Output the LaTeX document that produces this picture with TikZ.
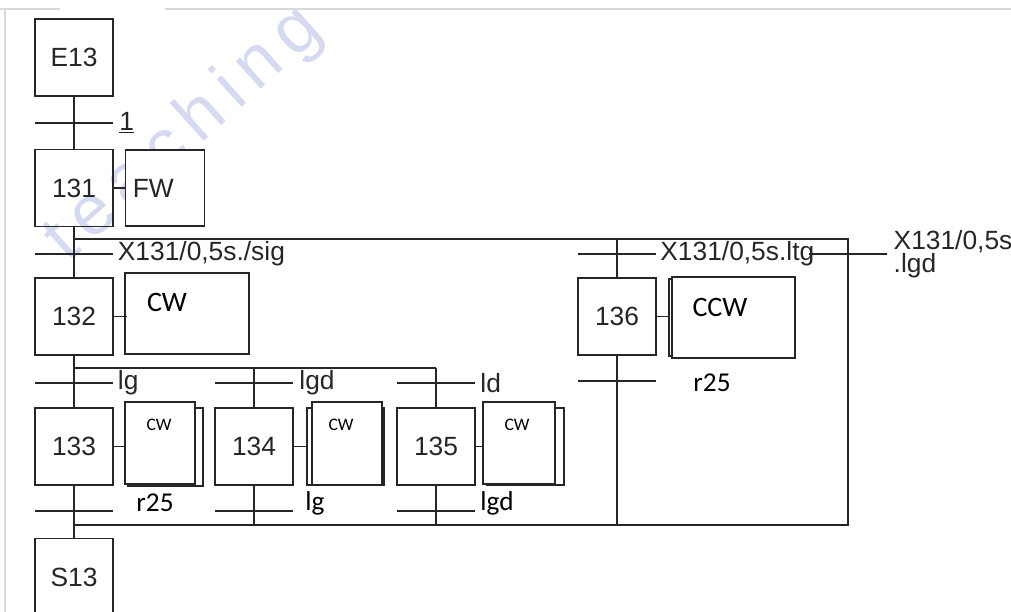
\documentclass[tikz,border=0pt]{standalone}
\usepackage{fontspec}
\setmainfont{Liberation Sans}
\newfontfamily\calibri{Carlito}
\newfontfamily\wmfont[LetterSpace=16]{Liberation Sans}
\usetikzlibrary{positioning}
\definecolor{wmark}{RGB}{214,218,240}

\begin{document}
\begin{tikzpicture}[
  x=0.02cm, y=-0.02cm, line width=0.8pt, color=black!85,
  every node/.style={font=\fontsize{15}{15}\selectfont},
  etape/.style={draw, minimum width=1.56cm, minimum height=1.54cm, inner sep=0pt},
  act/.style={draw, fill=white, inner sep=0pt},
  tbar/.style={draw, minimum width=1.56cm, minimum height=0pt, inner sep=0pt},
  tlab/.style={inner sep=0pt},
  cal/.style={font=\calibri\fontsize{15.5}{15.5}\selectfont, text=black, inner sep=0pt},
  calsmall/.style={font=\calibri\fontsize{10}{10}\selectfont, text=black, inner sep=0pt}
]
  \clip (0,0) rectangle (1011,612);
  \draw[black!15, line width=0.6pt] (0,9) -- (60,9) (165,9) -- (1011,9) (5,9) -- (5,612);
  \node[rotate=42, anchor=base west, inner sep=0pt, text=wmark, font=\wmfont\fontsize{40}{40}\selectfont] (wm) at (68,264) {teaching};

  \node[etape] (E13) at (74,57.5) {E13};
  \node[tbar] (t1) at (74,123) {};
  \node[tlab, right=0.1cm of t1] (r1) {\underline{1}};
  \node[etape] (s131) at (74,188) {131};
  \node[act, right=0.22cm of s131, minimum width=1.58cm, minimum height=1.52cm] (aFW) {};
  \node[tlab, right=0.15cm of aFW.west] (FW) {FW};

  \coordinate (d1) at (74,239);
  \coordinate (d1r) at (848,239);
  \coordinate (c1) at (74,525);
  \coordinate (c1r) at (848,525);
  \draw (d1) -- (d1r) -- (c1r) -- (c1);

  \node[tbar] (t2) at (74,254) {};
  \node[tlab, right=0.07cm of t2] (r2) {X131/0,5s./sig};
  \node[etape] (s132) at (74,316.5) {132};
  \node[act, minimum width=2.48cm, minimum height=1.62cm] (a132) at (187,313.5) {};
  \node[cal, font=\calibri\fontsize{16}{16}\selectfont] (cw132) at (167,302) {CW};

  \coordinate (d2) at (74,368);
  \coordinate (d2r) at (436,368);
  \draw (d2) -- (d2r);

  \node[tbar] (t3) at (74,383) {};
  \node[tlab, right=0.07cm of t3] (r3) {lg};
  \node[tbar] (t4) at (254,383) {};
  \node[tlab, right=0.1cm of t4] (r4) {lgd};
  \node[tbar] (t5) at (436,383) {};
  \node[tlab, right=0.08cm of t5] (r5) {ld};

  \node[etape] (s133) at (74,446.5) {133};
  \node[act, minimum width=1.5cm, minimum height=1.56cm] (b133) at (165.5,447) {};
  \node[act, minimum width=1.4cm, minimum height=1.64cm] (a133) at (160,443) {};
  \node[calsmall] (cw133) at (159,425) {CW};
  \node[etape] (s134) at (254,446.5) {134};
  \node[act, minimum width=1.54cm, minimum height=1.54cm] (b134) at (345.5,446.5) {};
  \node[act, minimum width=1.4cm, minimum height=1.66cm] (a134) at (347,443.5) {};
  \node[calsmall] (cw134) at (341,425) {CW};
  \node[etape] (s135) at (436,446.5) {135};
  \node[act, minimum width=1.54cm, minimum height=1.54cm] (b135) at (525.5,446.5) {};
  \node[act, minimum width=1.44cm, minimum height=1.64cm] (a135) at (519,443) {};
  \node[calsmall] (cw135) at (517,425) {CW};

  \node[tbar] (u3) at (74,511) {};
  \node[cal] (q3) at (155,503) {r25};
  \node[tbar] (u4) at (254,511) {};
  \node[cal] (q4) at (315,503) {lg};
  \node[tbar] (u5) at (436,511) {};
  \node[cal] (q5) at (497,503) {lgd};

  \coordinate (d6) at (617,239);
  \node[tbar] (t6) at (617,254) {};
  \node[tlab, right=0.06cm of t6] (r6) {X131/0,5s.ltg};
  \node[tbar] (t7) at (848,254) {};
  \node[tlab, align=left, anchor=west, font=\fontsize{15}{13}\selectfont] (r7) at (893,254) {X131/0,5s\\.lgd};
  \node[etape] (s136) at (617,316.5) {136};
  \node[act, minimum width=2.42cm, minimum height=1.54cm] (b136) at (729.5,317.5) {};
  \node[act, minimum width=2.46cm, minimum height=1.62cm] (a136) at (733.5,317.5) {};
  \node[cal, font=\calibri\fontsize{16}{16}\selectfont] (ccw) at (720,307) {CCW};
  \node[tbar] (u6) at (617,381) {};
  \node[cal] (q6) at (712,383) {r25};

  \node[etape] (S13) at (74,577) {S13};

  \draw (E13) -- (s131) -- (s132) -- (s133) -- (S13);
  \draw (s131) -- (aFW);
  \draw (s132.east) -- (s132.east -| b133.west);
  \draw (s133.east) -- (s133.east -| a133.west);
  \draw (s134.east) -- (s134.east -| b134.west);
  \draw (s135.east) -- (s135.east -| a135.west);
  \draw (s136.east) -- (s136.east -| b136.west);
  \draw (s134 |- d2) -- (s134);
  \draw (d2r) -- (s135);
  \draw (s134) -- (s134 |- c1);
  \draw (s135) -- (s135 |- c1);
  \draw (d6) -- (s136);
  \draw (s136) -- (s136 |- c1);
\end{tikzpicture}
\end{document}
